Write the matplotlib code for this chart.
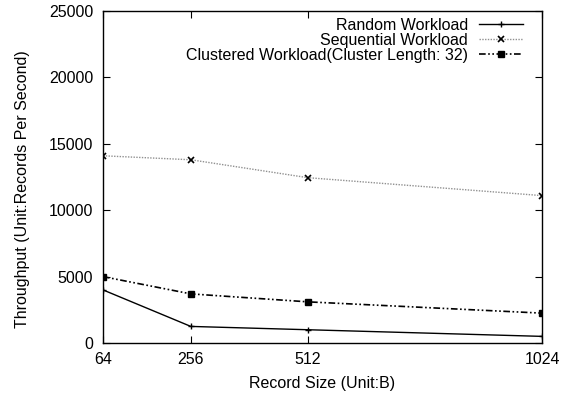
import numpy as np
import matplotlib.pyplot as plt

plt.rcParams['font.family'] = ['Liberation Sans', 'DejaVu Sans']
plt.rcParams['font.size'] = 11.5

# data
record_size = [64, 256, 512, 1024]
random_wl = [4000, 1250, 1000, 500]
sequential_wl = [14100, 13800, 12450, 11100]
clustered_wl = [5000, 3700, 3100, 2250]
x_ticks = [64, 256, 512, 1024]
y_ticks = [0, 5000, 10000, 15000, 20000, 25000]

fig = plt.figure(figsize=(5.61, 3.94), dpi=100)
ax = fig.add_axes([0.1836, 0.1294, 0.7826, 0.8426])

ax.plot(record_size, random_wl, color='black', lw=1.0, marker='+', ms=5,
        mew=1.0, label='Random Workload')
ax.plot(record_size, sequential_wl, color='#909090', lw=1.0, ls=(0, (1, 1)),
        marker='x', ms=4, mew=1.2, mec='black', label='Sequential Workload')
ax.plot(record_size, clustered_wl, color='black', lw=1.2,
        ls=(0, (4, 1.5, 1, 1.5, 1, 1.5)), marker='s', ms=4,
        label='Clustered Workload(Cluster Length: 32)')

ax.set_xlim(64, 1024)
ax.set_ylim(0, 25000)
ax.set_xticks(x_ticks)
ax.set_yticks(y_ticks)
ax.tick_params(direction='in', top=True, right=True, length=5, width=0.8)
ax.tick_params(axis='x', pad=6.5)
ax.tick_params(axis='y', pad=7)
for s in ax.spines.values():
    s.set_linewidth(1.0)

ax.set_xlabel('Record Size (Unit:B)', labelpad=6.5)
ax.set_ylabel('Throughput (Unit:Records Per Second)')
ax.yaxis.set_label_coords(-0.166, 0.464)

ax.legend(loc='upper right', bbox_to_anchor=(0.957, 0.979), frameon=False,
          markerfirst=False, handlelength=2.75, borderaxespad=0, borderpad=0,
          labelspacing=0.0, handletextpad=0.69)

fig.savefig('out.png', dpi=100)
